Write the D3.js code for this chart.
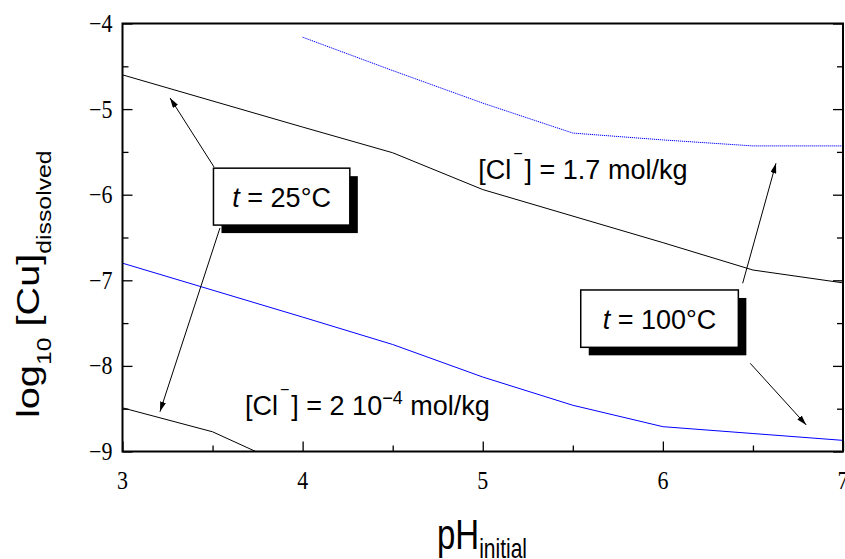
<!DOCTYPE html>
<html><head><meta charset="utf-8">
<script src="https://cdn.jsdelivr.net/npm/d3@7"></script>
<style>body{margin:0;background:#fff}svg{display:block}</style>
</head><body>
<svg id="chart" width="845" height="559"></svg>
<script>
// ---- data ----
const xTicks = [3, 4, 5, 6, 7];
const yTicks = [-4, -5, -6, -7, -8, -9];
const pH_25_high = [3, 4, 4.5, 5, 6, 6.5, 7];
const log_25_high = [-4.60, -5.21, -5.51, -5.94, -6.56, -6.88, -7.03];
const pH_25_low = [3, 3.5, 4];
const log_25_low = [-8.49, -8.77, -9.25];
const pH_100_high = [4, 4.5, 5, 5.5, 6, 6.5, 7];
const log_100_high = [-4.16, -4.55, -4.93, -5.28, -5.36, -5.43, -5.43];
const pH_100_low = [3, 4, 4.5, 5, 5.5, 6, 6.5, 7];
const log_100_low = [-6.80, -7.43, -7.75, -8.13, -8.46, -8.71, -8.79, -8.87];

const svg = d3.select("#chart");
const L = 122.5, R = 843, T = 23.5, B = 451.5;
const x = d3.scaleLinear().domain([3, 7]).range([L, R]);
const y = d3.scaleLinear().domain([-9, -4]).range([B, T]);

svg.append("defs").append("clipPath").attr("id", "clip")
  .append("rect").attr("x", L).attr("y", T).attr("width", R - L).attr("height", B - T);
const marker = svg.select("defs").append("marker").attr("id", "arr")
  .attr("viewBox", "0 0 10 6").attr("refX", 10).attr("refY", 3)
  .attr("markerWidth", 10).attr("markerHeight", 6).attr("markerUnits", "userSpaceOnUse")
  .attr("orient", "auto");
marker.append("path").attr("d", "M0,0 L10,3 L0,6 Z").attr("fill", "#000");

const line = d3.line().x(d => x(d[0])).y(d => y(d[1]));
const series = [
  {xs: pH_25_high, ys: log_25_high, color: "#000", dash: null},
  {xs: pH_25_low, ys: log_25_low, color: "#000", dash: null},
  {xs: pH_100_high, ys: log_100_high, color: "#0000ff", dash: "1.2,0.8"},
  {xs: pH_100_low, ys: log_100_low, color: "#0000ff", dash: null}
];
const gl = svg.append("g").attr("clip-path", "url(#clip)");
series.forEach(s => {
  gl.append("path").datum(s.xs.map((v, i) => [v, s.ys[i]]))
    .attr("d", line).attr("fill", "none").attr("stroke", s.color)
    .attr("stroke-width", 1).attr("stroke-dasharray", s.dash);
});

// axes (ticks via d3 axes)
const minorX = d3.range(3.5, 7, 1);
const minorY = d3.range(-8.5, -4, 1);
svg.append("g").attr("transform", `translate(0,${B})`)
  .call(d3.axisBottom(x).tickValues(xTicks).tickSize(-10).tickFormat(""));
svg.append("g").attr("transform", `translate(0,${B})`)
  .call(d3.axisBottom(x).tickValues(minorX).tickSize(-6).tickFormat(""));
svg.append("g").attr("transform", `translate(${L},0)`)
  .call(d3.axisLeft(y).tickValues(yTicks).tickSize(-10).tickFormat(""));
svg.append("g").attr("transform", `translate(${L},0)`)
  .call(d3.axisLeft(y).tickValues(minorY).tickSize(-6).tickFormat(""));
svg.append("g").attr("transform", `translate(${R},0)`)
  .call(d3.axisRight(y).tickValues(yTicks).tickSize(-10).tickFormat(""));
svg.append("g").attr("transform", `translate(${R},0)`)
  .call(d3.axisRight(y).tickValues(minorY).tickSize(-6).tickFormat(""));
svg.selectAll(".domain").remove();
svg.selectAll(".tick line").attr("stroke", "#000").attr("stroke-width", 1.3);
svg.selectAll(".tick text").remove();

// tick labels (serif, slightly stretched vertically like the reference)
const serif = "'Liberation Serif','Times New Roman',Times,serif";
const fmt = d => d < 0 ? "\u2212" + Math.abs(d) : String(d);
svg.append("g").selectAll("g").data(xTicks).join("g")
  .attr("transform", d => `translate(${x(d)},${B + 37}) scale(1,1.15)`)
  .append("text").attr("text-anchor", "middle").attr("font-family", serif)
  .attr("font-size", 22).attr("fill", "#000").text(d => String(d));
svg.append("g").selectAll("g").data(yTicks).join("g")
  .attr("transform", d => `translate(${L - 10},${y(d) + 8.5}) scale(1,1.15)`)
  .append("text").attr("text-anchor", "end").attr("font-family", serif)
  .attr("font-size", 22).attr("fill", "#000").text(fmt);

svg.append("rect").attr("x", L).attr("y", T).attr("width", R - L).attr("height", B - T)
  .attr("fill", "none").attr("stroke", "#000").attr("stroke-width", 2);

// axis titles
const sans = "'Liberation Sans',Arial,Helvetica,sans-serif";
const xt = svg.append("g").attr("transform", "translate(437,549) scale(1,1.3)")
  .append("text").attr("font-family", sans).attr("font-size", 33).attr("fill", "#000");
xt.append("tspan").text("pH");
xt.append("tspan").attr("font-size", 21).attr("dy", 7).text("initial");
const yt = svg.append("g").attr("transform", "translate(39,418) scale(1,1.24) rotate(-90)")
  .append("text").attr("font-family", sans).attr("font-size", 32).attr("fill", "#000");
yt.append("tspan").text("log");
yt.append("tspan").attr("font-size", 20).attr("dy", 12).text("10");
yt.append("tspan").attr("dy", -12).text(" [Cu]");
yt.append("tspan").attr("font-size", 20).attr("dy", 12).text("dissolved");

// annotation boxes
const boxes = [
  {x0: 3.505, x1: 4.262, y0: -5.69, y1: -6.355, label: "25\u00B0C"},
  {x0: 5.544, x1: 6.419, y0: -7.113, y1: -7.783, label: "100\u00B0C"}
];
boxes.forEach(b => {
  const bx = x(b.x0), by = y(b.y0), bw = x(b.x1) - x(b.x0), bh = y(b.y1) - y(b.y0);
  svg.append("rect").attr("x", bx + 8).attr("y", by + 8).attr("width", bw).attr("height", bh).attr("fill", "#000");
  svg.append("rect").attr("x", bx).attr("y", by).attr("width", bw).attr("height", bh)
    .attr("fill", "#fff").attr("stroke", "#000").attr("stroke-width", 1.5);
  const t = svg.append("text").attr("x", bx + bw / 2).attr("y", by + bh / 2 + 10)
    .attr("text-anchor", "middle").attr("font-family", sans).attr("font-size", 27).attr("fill", "#000");
  t.append("tspan").attr("font-style", "italic").text("t");
  t.append("tspan").text(" = " + b.label);
});

// arrows
const arrows = [
  [3.508, -5.676, 3.264, -4.870],
  [3.541, -6.389, 3.208, -8.535],
  [6.443, -7.035, 6.628, -5.633],
  [6.485, -7.970, 6.796, -8.690]
];
arrows.forEach(a => {
  svg.append("line").attr("x1", x(a[0])).attr("y1", y(a[1])).attr("x2", x(a[2])).attr("y2", y(a[3]))
    .attr("stroke", "#000").attr("stroke-width", 1).attr("marker-end", "url(#arr)");
});

// concentration labels
function clLabel(px, py, parts) {
  const t = svg.append("text").attr("x", x(px)).attr("y", y(py))
    .attr("font-family", sans).attr("font-size", 27).attr("fill", "#000");
  t.append("tspan").text("[Cl");
  t.append("tspan").attr("font-size", 16).attr("dx", 2).attr("dy", -20).text("\u2212");
  t.append("tspan").attr("dx", 2).attr("dy", 20).text("] = " + parts[0]);
  if (parts.length > 1) {
    t.append("tspan").attr("font-size", 18).attr("dy", -11).text(parts[1]);
    t.append("tspan").attr("dy", 11).text(parts[2]);
  }
}
clLabel(4.975, -5.817, ["1.7 mol/kg"]);
clLabel(3.68, -8.568, ["2 10", "\u22124", " mol/kg"]);
</script>
</body></html>
